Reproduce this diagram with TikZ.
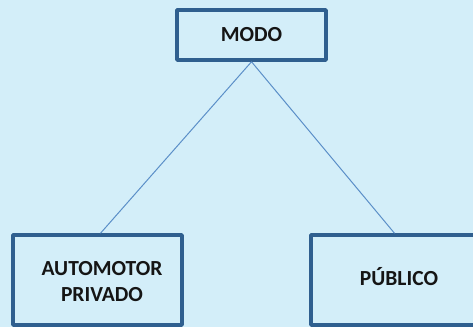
\documentclass[tikz,border=0pt]{standalone}
\usepackage{fontspec}
\setmainfont{Carlito}
\usetikzlibrary{positioning}
\definecolor{fondo}{HTML}{D3EEF9}
\definecolor{borde}{HTML}{2F5F8F}
\definecolor{enlace}{HTML}{5B8FC8}
\definecolor{texto}{HTML}{151515}
\tikzset{
  rotulo/.style={font=\fontsize{21.5}{26}\selectfont\bfseries, text=texto, align=center, inner sep=0pt},
  caja/.style={rotulo, draw=borde, line width=3.5pt, fill=fondo},
  enlace/.style={draw=enlace, line width=1pt}
}
\begin{document}
\begin{tikzpicture}[x=1pt, y=-1pt, line join=round]
	\def\ancho{473} \def\alto{327}
	\fill[fondo] (0,0) rectangle (\ancho,\alto);
	\useasboundingbox (0,0) rectangle (\ancho,\alto);
	\clip (0,0) rectangle (\ancho,\alto);
	\node[caja, minimum width=149pt, minimum height=50pt] (modo) at (251.5,35) {MODO};
	\node[caja, minimum width=169pt, minimum height=90pt] (privado) at (97.5,280) {};
	\node[rotulo] (privadotxt) at (102,282) {AUTOMOTOR\\PRIVADO};
	\node[caja, minimum width=175pt, minimum height=90pt] (publico) at (398.5,280) {};
	\node[rotulo] (publicotxt) at (399,277) {PÚBLICO};
	\draw[enlace] (modo.south) -- ([xshift=3pt]privado.north);
	\draw[enlace] (modo.south) -- ([xshift=-4pt]publico.north);
\end{tikzpicture}
\end{document}
